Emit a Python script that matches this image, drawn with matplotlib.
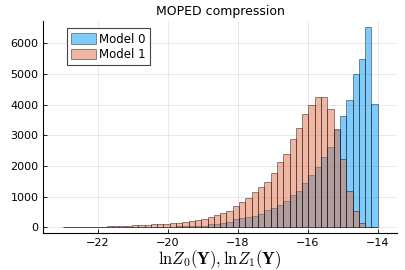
import numpy as np
import matplotlib
matplotlib.use("Agg")
from matplotlib import pyplot as plt

plt.rcParams['mathtext.fontset'] = 'cm'

# ---------------- data (bin counts, left to right) ----------------
bin_lo = -23.0
bin_hi = -14.0
n_bins = 50

# Model 0 counts (rightmost bin last)
model0 = [0, 0, 1, 1, 1, 2, 2, 3, 4, 5, 6, 8, 10, 12, 15, 18, 22, 25, 30, 35, 40, 45,
          50, 95, 110, 130, 160, 270, 305, 335, 360, 425, 575, 645, 715, 870, 1055,
          1185, 1445, 1695, 1955, 2290, 2610, 3170, 3620, 4140, 5000, 5500, 6540, 4030]

# Model 1 counts
model1 = [3, 5, 7, 10, 13, 17, 22, 28, 35, 42, 50, 60, 70, 80, 95, 108, 120, 135, 150,
          175, 205, 240, 280, 345, 400, 455, 520, 695, 815, 945, 1140, 1305, 1490, 1760,
          2140, 2390, 2880, 3250, 3685, 4005, 4260, 4260, 3860, 3200, 2215, 1195, 520,
          150, 20, 10]

labels = ["Model 0", "Model 1"]

edges = np.linspace(bin_lo, bin_hi, n_bins + 1)
width = edges[1] - edges[0]

fig = plt.figure(figsize=(4.05, 2.7), dpi=100)
ax = fig.add_axes([0.107, 0.136, 0.8725, 0.787])

ax.bar(edges[:-1], model0, width=width, align='edge', color='#009AFA', alpha=0.5,
       edgecolor='black', linewidth=0.6, label=labels[0], zorder=2)
ax.bar(edges[:-1], model1, width=width, align='edge', color='#E26F46', alpha=0.5,
       edgecolor='black', linewidth=0.6, label=labels[1], zorder=3)

ax.set_xlim(-23.55, -13.46)
ax.set_ylim(-196, 6736)
ax.set_xticks([-22, -20, -18, -16, -14])
ax.set_yticks([0, 1000, 2000, 3000, 4000, 5000, 6000])
ax.grid(True, color='black', alpha=0.1, linewidth=0.6, zorder=0)
ax.set_axisbelow(True)
for s in ['top', 'right']:
    ax.spines[s].set_visible(False)
ax.tick_params(direction='in', length=3, labelsize=8, width=0.6)

ax.set_title("MOPED compression", fontsize=9, pad=4)
ax.set_xlabel(r'$\mathrm{ln}Z_0(\mathbf{Y}),\mathrm{ln}Z_1(\mathbf{Y})$', fontsize=12, labelpad=0)

leg = ax.legend(loc='upper left', bbox_to_anchor=(0.06, 0.975), fontsize=8.5,
                fancybox=False, framealpha=1, edgecolor='#444444',
                handlelength=2.1, handleheight=1.0, handletextpad=0.3,
                borderpad=0.35, labelspacing=0.2, borderaxespad=0.2)
leg.get_frame().set_linewidth(0.8)

fig.savefig("out.png", dpi=100)
